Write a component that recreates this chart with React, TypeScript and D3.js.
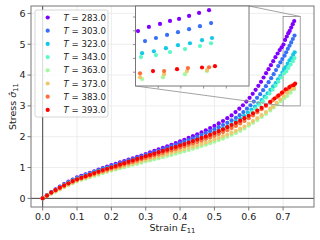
import React from "react";
import * as d3 from "d3";

// temperatures (legend) and rainbow colours
const temps = [283, 303, 323, 343, 363, 373, 383, 393];
const colors = ["#8000ff", "#376ff9", "#12c8e6", "#5bf9c8", "#a4f99f", "#edc86f", "#ff6f39", "#ff0000"];

// regular strain steps shared by the start of every run
const strainGrid = [
  0, 0.0125, 0.025, 0.0375, 0.05, 0.0625, 0.075, 0.0875, 0.1, 0.1125, 0.125, 0.1375, 0.15, 0.1625,
  0.175, 0.1875, 0.2, 0.2125, 0.225, 0.2375, 0.25, 0.2625, 0.275, 0.2875, 0.3, 0.3125, 0.325, 0.3375,
  0.35, 0.3625, 0.375, 0.3875, 0.4, 0.4125, 0.425, 0.4375, 0.45, 0.4625, 0.475, 0.4875, 0.5, 0.5125,
  0.525, 0.5375, 0.55, 0.5625, 0.575, 0.5875, 0.6, 0.6125, 0.625, 0.6375, 0.65, 0.6625, 0.675,
];

// finer strain steps at the end of each run
const tail283 = [0.5615, 0.5725, 0.583, 0.593, 0.6025, 0.6115, 0.62, 0.628, 0.6357, 0.6432, 0.6505, 0.6576, 0.6645, 0.6712, 0.6777, 0.684, 0.6901, 0.6958, 0.7011, 0.7059, 0.7108, 0.7152, 0.7192, 0.7236, 0.728, 0.7324];
const tail303 = [0.5735, 0.5843, 0.5948, 0.605, 0.6148, 0.6242, 0.6332, 0.6418, 0.65, 0.6578, 0.6653, 0.6725, 0.6793, 0.6858, 0.692, 0.6978, 0.7042, 0.709, 0.7139, 0.7187, 0.7236, 0.7284, 0.7333];
const tail323 = [0.5863, 0.5973, 0.6079, 0.6181, 0.6279, 0.6373, 0.6463, 0.6549, 0.6631, 0.6709, 0.6783, 0.6853, 0.6919, 0.6981, 0.7029, 0.7081, 0.7134, 0.7187, 0.724, 0.7293, 0.7337];
const tail343 = [0.5868, 0.5983, 0.6095, 0.6204, 0.631, 0.6412, 0.651, 0.6604, 0.6694, 0.678, 0.6862, 0.694, 0.7024, 0.709, 0.7152, 0.7218, 0.7284, 0.7333];
const tail363 = [0.6725, 0.6827, 0.6929, 0.7029, 0.7121, 0.7218, 0.7315];
const tail373 = [0.6705, 0.681, 0.6915, 0.702, 0.7126, 0.7227, 0.7315];
const tail383 = [0.6705, 0.681, 0.6915, 0.702, 0.7126, 0.7231, 0.7324];
const tail393 = [0.686, 0.6968, 0.7077, 0.7183, 0.7293, 0.735];

// stress values
const stress283 = [
  0, 0.10, 0.20, 0.29, 0.38, 0.46, 0.54, 0.61, 0.68, 0.73, 0.78, 0.83, 0.88, 0.93, 0.98, 1.03, 1.08,
  1.12, 1.17, 1.21, 1.26, 1.30, 1.35, 1.39, 1.44, 1.49, 1.54, 1.59, 1.64, 1.69, 1.74, 1.79, 1.85, 1.90,
  1.96, 2.02, 2.08, 2.14, 2.21, 2.28, 2.35, 2.43, 2.51, 2.60, 2.69,
  2.80, 2.91, 3.02, 3.14, 3.26, 3.39, 3.52, 3.65, 3.78, 3.92, 4.06, 4.19, 4.32, 4.45, 4.58, 4.70, 4.81,
  4.90, 4.99, 5.14, 5.25, 5.36, 5.43, 5.54, 5.65, 5.75,
];
const stress303 = [
  0, 0.10, 0.19, 0.28, 0.37, 0.45, 0.53, 0.60, 0.66, 0.71, 0.76, 0.81, 0.86, 0.91, 0.96, 1.00, 1.05,
  1.09, 1.14, 1.18, 1.23, 1.27, 1.32, 1.36, 1.41, 1.45, 1.50, 1.54, 1.59, 1.64, 1.69, 1.74, 1.79, 1.84,
  1.89, 1.94, 2.00, 2.06, 2.12, 2.18, 2.24, 2.31, 2.38, 2.45, 2.53, 2.61,
  2.70, 2.80, 2.91, 3.02, 3.14, 3.26, 3.38, 3.51, 3.64, 3.77, 3.90, 4.03, 4.16, 4.29, 4.41, 4.52, 4.63,
  4.74, 4.85, 4.95, 5.06, 5.17, 5.28,
];
const stress323 = [
  0, 0.10, 0.19, 0.27, 0.36, 0.44, 0.51, 0.58, 0.64, 0.69, 0.74, 0.79, 0.84, 0.89, 0.93, 0.98, 1.02,
  1.06, 1.10, 1.14, 1.19, 1.23, 1.27, 1.31, 1.36, 1.40, 1.44, 1.49, 1.53, 1.57, 1.62, 1.66, 1.71, 1.76,
  1.81, 1.86, 1.91, 1.96, 2.01, 2.07, 2.13, 2.19, 2.26, 2.33, 2.41, 2.49, 2.58,
  2.68, 2.78, 2.88, 2.98, 3.08, 3.19, 3.30, 3.41, 3.52, 3.63, 3.74, 3.86, 3.97, 4.08, 4.19, 4.26, 4.37,
  4.48, 4.55, 4.66, 4.74,
];
const stress343 = [
  0, 0.09, 0.18, 0.26, 0.34, 0.42, 0.49, 0.56, 0.62, 0.67, 0.72, 0.76, 0.81, 0.85, 0.90, 0.94, 0.98,
  1.02, 1.06, 1.10, 1.14, 1.18, 1.22, 1.27, 1.31, 1.35, 1.39, 1.43, 1.48, 1.52, 1.56, 1.61, 1.65, 1.70,
  1.74, 1.79, 1.84, 1.89, 1.94, 1.99, 2.05, 2.11, 2.17, 2.24, 2.31, 2.39, 2.47,
  2.58, 2.69, 2.80, 2.91, 3.03, 3.15, 3.27, 3.40, 3.53, 3.66, 3.79, 3.92, 4.05, 4.12, 4.23, 4.34, 4.45, 4.55,
];
const stress363 = [
  0, 0.07, 0.15, 0.22, 0.29, 0.36, 0.43, 0.49, 0.55, 0.60, 0.64, 0.69, 0.73, 0.77, 0.82, 0.86, 0.90,
  0.94, 0.98, 1.01, 1.05, 1.09, 1.12, 1.16, 1.20, 1.23, 1.27, 1.30, 1.34, 1.38, 1.41, 1.45, 1.49, 1.53,
  1.57, 1.61, 1.65, 1.70, 1.74, 1.79, 1.84, 1.89, 1.94, 2.00, 2.06, 2.12, 2.19, 2.27, 2.36, 2.45, 2.54,
  2.64, 2.74, 2.85,
  2.95, 3.05, 3.15, 3.25, 3.32, 3.43, 3.54,
];
const stress373 = [
  0, 0.08, 0.16, 0.23, 0.30, 0.37, 0.44, 0.51, 0.57, 0.62, 0.67, 0.71, 0.76, 0.80, 0.85, 0.89, 0.93,
  0.97, 1.01, 1.05, 1.09, 1.13, 1.17, 1.21, 1.25, 1.29, 1.32, 1.36, 1.40, 1.44, 1.48, 1.52, 1.56, 1.60,
  1.64, 1.68, 1.72, 1.77, 1.81, 1.86, 1.91, 1.96, 2.02, 2.07, 2.13, 2.19, 2.26, 2.33, 2.42, 2.51, 2.60,
  2.70, 2.80, 2.91,
  2.99, 3.10, 3.21, 3.32, 3.43, 3.54, 3.58,
];
const stress383 = [
  0, 0.09, 0.18, 0.26, 0.34, 0.41, 0.48, 0.54, 0.60, 0.65, 0.70, 0.75, 0.79, 0.84, 0.88, 0.93, 0.97,
  1.01, 1.05, 1.10, 1.14, 1.18, 1.22, 1.27, 1.31, 1.35, 1.39, 1.43, 1.47, 1.52, 1.56, 1.60, 1.65, 1.69,
  1.74, 1.78, 1.83, 1.88, 1.93, 1.98, 2.03, 2.09, 2.15, 2.21, 2.28, 2.35, 2.43, 2.51, 2.60, 2.69, 2.79,
  2.89, 3.00, 3.11,
  3.19, 3.28, 3.37, 3.46, 3.54, 3.65, 3.68,
];
const stress393 = [
  0, 0.09, 0.19, 0.27, 0.35, 0.42, 0.49, 0.56, 0.62, 0.67, 0.72, 0.77, 0.82, 0.87, 0.92, 0.96, 1.01,
  1.05, 1.10, 1.14, 1.19, 1.23, 1.28, 1.32, 1.37, 1.41, 1.45, 1.50, 1.54, 1.58, 1.63, 1.67, 1.72, 1.76,
  1.81, 1.86, 1.91, 1.96, 2.01, 2.06, 2.12, 2.18, 2.24, 2.31, 2.38, 2.45, 2.52, 2.60, 2.68, 2.76, 2.85,
  2.94, 3.03, 3.13, 3.24,
  3.33, 3.43, 3.54, 3.61, 3.67, 3.72,
];

const tails = [tail283, tail303, tail323, tail343, tail363, tail373, tail383, tail393];
const stresses = [stress283, stress303, stress323, stress343, stress363, stress373, stress383, stress393];

const xTicks = [0, 0.1, 0.2, 0.3, 0.4, 0.5, 0.6, 0.7];
const yTicks = [0, 1, 2, 3, 4, 5, 6];
const insetXTicks = [0.71, 0.72, 0.73, 0.74];
const insetYTicks = [3.5, 4.0, 4.5, 5.0, 5.5];

const FONT = "DejaVu Sans, sans-serif";

export default function App() {
  const m = { left: 31, right: 314, top: 6, bottom: 207 };
  const ins = { left: 135.5, right: 249, top: 6, bottom: 86 };

  const x = d3.scaleLinear().domain([-0.034, 0.79]).range([m.left, m.right]);
  const y = d3.scaleLinear().domain([-0.28, 6.24]).range([m.bottom, m.top]);
  const xi = d3.scaleLinear().domain([0.7, 0.75]).range([ins.left, ins.right]);
  const yi = d3.scaleLinear().domain([3.0, 5.9]).range([ins.bottom, ins.top]);

  const series = temps.map((t, k) => {
    const s = stresses[k];
    const strain = strainGrid.slice(0, s.length - tails[k].length).concat(tails[k]);
    return { t, color: colors[k], pts: s.map((v, i) => [strain[i], v]) };
  });

  const spine = "#777";
  const grid = "#e8e8e8";
  const r = 2.1;

  return (
    <svg width={320} height={240} style={{ position: "absolute", left: 0, top: 0, background: "#fff" }} fontFamily={FONT}>
      <defs>
        <clipPath id="mainClip">
          <rect x={m.left} y={m.top} width={m.right - m.left} height={m.bottom - m.top} />
        </clipPath>
        <clipPath id="insetClip">
          <rect x={ins.left} y={ins.top} width={ins.right - ins.left} height={ins.bottom - ins.top} />
        </clipPath>
      </defs>

      {/* grid */}
      {xTicks.map((t) => (
        <line key={"gx" + t} x1={x(t)} x2={x(t)} y1={m.top} y2={m.bottom} stroke={grid} strokeWidth={0.8} />
      ))}
      {yTicks.map((t) => (
        <line key={"gy" + t} x1={m.left} x2={m.right} y1={y(t)} y2={y(t)} stroke={grid} strokeWidth={0.8} />
      ))}

      {/* zero lines */}
      <line x1={m.left} x2={m.right} y1={y(0)} y2={y(0)} stroke="#444" strokeWidth={1} />
      <line x1={x(0)} x2={x(0)} y1={m.top} y2={m.bottom} stroke="#444" strokeWidth={1} />

      {/* zoom rectangle */}
      <rect x={x(0.7)} y={y(5.9)} width={x(0.75) - x(0.7)} height={y(3.0) - y(5.9)} fill="none" stroke="#999" strokeWidth={0.9} />

      {/* data */}
      <g clipPath="url(#mainClip)">
        {series.map((s) => (
          <g key={s.t} fill={s.color}>
            {s.pts.map((p, i) => (
              <circle key={i} cx={x(p[0])} cy={y(p[1])} r={r} />
            ))}
          </g>
        ))}
      </g>

      {/* connectors */}
      <line x1={ins.right} y1={ins.top} x2={x(0.75)} y2={y(5.9)} stroke="#999" strokeWidth={0.9} />
      <line x1={ins.left} y1={ins.bottom} x2={x(0.7)} y2={y(3.0)} stroke="#999" strokeWidth={0.9} />

      {/* frame + ticks */}
      <rect x={m.left} y={m.top} width={m.right - m.left} height={m.bottom - m.top} fill="none" stroke={spine} strokeWidth={1} />
      {xTicks.map((t) => (
        <g key={"tx" + t}>
          <line x1={x(t)} x2={x(t)} y1={m.bottom} y2={m.bottom + 3.5} stroke={spine} />
          <text x={x(t)} y={m.bottom + 13} textAnchor="middle" fontSize={9.5} fill="#222">
            {t.toFixed(1)}
          </text>
        </g>
      ))}
      {yTicks.map((t) => (
        <g key={"ty" + t}>
          <line x1={m.left - 3.5} x2={m.left} y1={y(t)} y2={y(t)} stroke={spine} />
          <text x={m.left - 5.5} y={y(t) + 3.4} textAnchor="end" fontSize={9.5} fill="#222">
            {t}
          </text>
        </g>
      ))}

      {/* axis labels */}
      <text x={(m.left + m.right) / 2} y={231} textAnchor="middle" fontSize={9.5} fill="#222">
        Strain <tspan fontStyle="italic">E</tspan>
        <tspan fontSize={6.8} dy={2}>11</tspan>
      </text>
      <text transform={`translate(16,${(m.top + m.bottom) / 2}) rotate(-90)`} textAnchor="middle" fontSize={9.5} fill="#222">
        Stress <tspan fontStyle="italic">{"\u03c3\u0302"}</tspan>
        <tspan fontSize={6.8} dy={2}>11</tspan>
      </text>

      {/* legend */}
      <rect x={35} y={10} width={73} height={107} rx={2} fill="#fff" fillOpacity={0.8} stroke="#ccc" strokeWidth={0.8} />
      {series.map((s, i) => (
        <g key={"lg" + s.t}>
          <circle cx={47.7} cy={17.5 + i * 13.2} r={r} fill={s.color} />
          <text x={63.5} y={17.5 + i * 13.2 + 3.1} fontSize={8.6} fill="#222">
            <tspan fontStyle="italic">T</tspan> = {s.t.toFixed(1)}
          </text>
        </g>
      ))}

      {/* inset */}
      <rect x={ins.left} y={ins.top} width={ins.right - ins.left} height={ins.bottom - ins.top} fill="#fff" />
      <g clipPath="url(#insetClip)">
        {series.map((s) => (
          <g key={"in" + s.t} fill={s.color}>
            {s.pts
              .filter((p) => p[0] >= 0.69)
              .map((p, i) => (
                <circle key={i} cx={xi(p[0])} cy={yi(p[1])} r={r} />
              ))}
          </g>
        ))}
      </g>
      <rect x={ins.left} y={ins.top} width={ins.right - ins.left} height={ins.bottom - ins.top} fill="none" stroke={spine} strokeWidth={1} />
      {insetXTicks.map((t) => (
        <line key={"ix" + t} x1={xi(t)} x2={xi(t)} y1={ins.bottom} y2={ins.bottom + 2.5} stroke={spine} strokeWidth={0.8} />
      ))}
      {insetYTicks.map((t) => (
        <line key={"iy" + t} x1={ins.left - 2.5} x2={ins.left} y1={yi(t)} y2={yi(t)} stroke={spine} strokeWidth={0.8} />
      ))}
    </svg>
  );
}
